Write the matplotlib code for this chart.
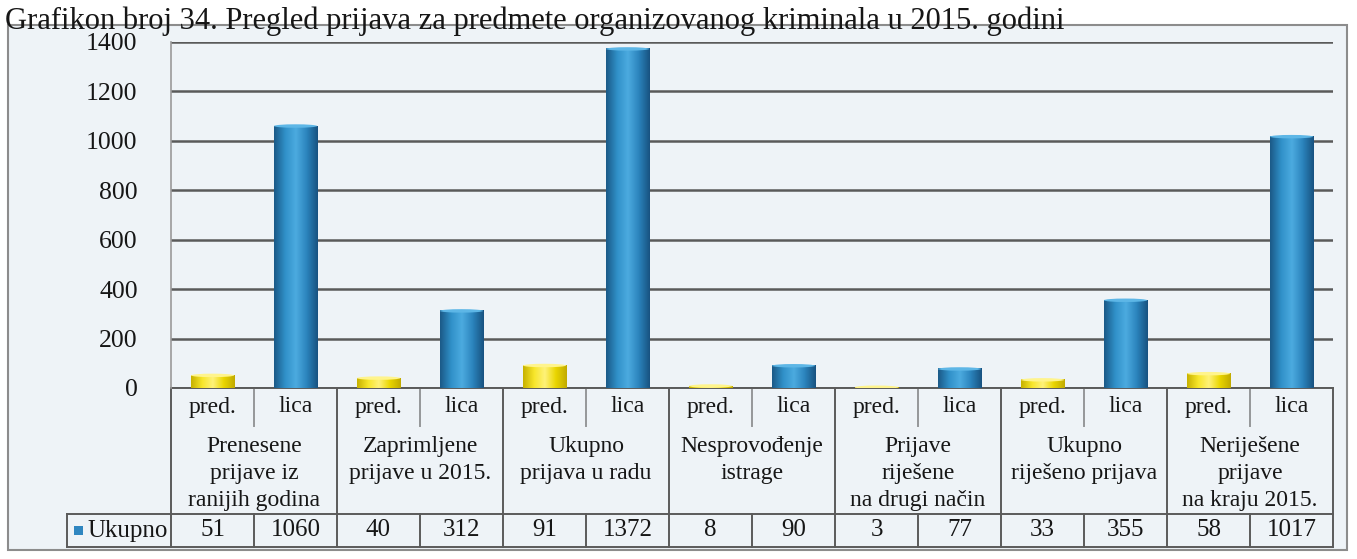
import numpy as np
import matplotlib.pyplot as plt
import matplotlib.transforms as mtransforms
from matplotlib.patches import Rectangle, Ellipse
from matplotlib.colors import LinearSegmentedColormap

title = "Grafikon broj 34. Pregled prijava za predmete organizovanog kriminala u 2015. godini"
groups = [
    "Prenesene\nprijave iz\nranijih godina",
    "Zaprimljene\nprijave u 2015.",
    "Ukupno\nprijava u radu",
    "Nesprovođenje\nistrage",
    "Prijave\nriješene\nna drugi način",
    "Ukupno\nriješeno prijava",
    "Neriješene\nprijave\nna kraju 2015.",
]
sub_labels = ["pred.", "lica"]
pred_values = [51, 40, 91, 8, 3, 33, 58]
lica_values = [1060, 312, 1372, 90, 77, 355, 1017]
y_ticks = [0, 200, 400, 600, 800, 1000, 1200, 1400]
series_name = "Ukupno"

W, H = 1357, 559
FONT = "Liberation Serif"
TXT = "#161616"
LINE = "#5a5a5a"


def fx(px):
    return px / W


def fy(px):
    return 1 - px / H


# interleave pred / lica per group
values = []
kinds = []
for p, l in zip(pred_values, lica_values):
    values += [p, l]
    kinds += [0, 1]
x = np.arange(len(values))

fig = plt.figure(figsize=(W / 100, H / 100), dpi=100)
fig.patch.set_facecolor("white")

# outer chart frame
fig.patches.append(Rectangle((fx(8), fy(550)), fx(1347 - 8), (550 - 25) / H,
                             transform=fig.transFigure, facecolor="#eef3f7",
                             edgecolor="#8c8c8c", lw=1.5, zorder=-5))

fig.text(fx(5), fy(29), title, fontsize=22, family=FONT, color=TXT,
         ha="left", va="baseline", zorder=5)

ax = fig.add_axes([fx(171), fy(388), fx(1333 - 171), (388 - 42) / H])
ax.set_zorder(2)
ax.set_facecolor("none")
ax.set_xlim(-0.5, len(values) - 0.5)
ax.set_ylim(0, 1400)

# gridlines
ax.set_yticks(y_ticks)
ax.set_yticklabels([str(t) for t in y_ticks], fontsize=18.5, family=FONT, color=TXT)
ax.tick_params(axis="y", length=0, pad=24)
ax.tick_params(axis="x", bottom=False, labelbottom=False)
ax.yaxis.grid(True, color=LINE, lw=1.8)
ax.set_axisbelow(True)
for s in ["top", "right", "bottom"]:
    ax.spines[s].set_visible(False)
ax.spines["left"].set_color("#9a9a9a")
ax.spines["left"].set_linewidth(1.2)

# cylinder-like bars
cmaps = [
    LinearSegmentedColormap.from_list("y", ["#c8b200", "#f7e62a", "#fff27a", "#ead600", "#c2ab00"]),
    LinearSegmentedColormap.from_list("b", ["#1b5a88", "#3090c8", "#4cabe0", "#2b84bd", "#185381"]),
]
cap_colors = ["#fff48c", "#5db6e6"]
grad = np.linspace(0, 1, 64)[None, :]
bw = 0.52
for xi, v, k in zip(x, values, kinds):
    ax.imshow(grad, extent=[xi - bw / 2, xi + bw / 2, 0, v], aspect="auto",
              cmap=cmaps[k], zorder=3, interpolation="bilinear")
    ax.add_patch(Ellipse((xi, v), bw, 14, facecolor=cap_colors[k],
                         edgecolor="none", zorder=4))
ax.set_xlim(-0.5, len(values) - 0.5)
ax.set_ylim(0, 1400)

# data table under the chart
bt = mtransforms.blended_transform_factory(ax.transData, fig.transFigure)
y_top, y_sub, y_grp, y_bot = fy(388), fy(426), fy(514), fy(547)
x0, x1 = -0.5, len(values) - 0.5

def hline(y, xa, xb, **kw):
    ax.plot([xa, xb], [y, y], transform=bt, clip_on=False, color=LINE, lw=1.4, **kw)

def vline(xv, ya, yb, **kw):
    ax.plot([xv, xv], [ya, yb], transform=bt, clip_on=False, color=LINE, lw=1.4, **kw)

hline(y_top, x0, x1)
hline(y_grp, x0, x1)
hline(y_bot, x0, x1)
for g in range(len(groups) + 1):
    vline(x0 + 2 * g, y_top, y_bot)
for g in range(len(groups)):
    vline(2 * g + 0.5, y_top - 0.004, y_sub, alpha=0.6)
    vline(2 * g + 0.5, y_grp, y_bot)

# left legend cell
ft = fig.transFigure
for yy in [y_grp, y_bot]:
    ax.plot([fx(67), fx(171)], [yy, yy], transform=ft, clip_on=False, color=LINE, lw=1.4)
ax.plot([fx(67), fx(67)], [y_grp, y_bot], transform=ft, clip_on=False, color=LINE, lw=1.4)
fig.patches.append(Rectangle((fx(74), fy(535)), fx(9), 9 / H, transform=ft,
                             facecolor="#2f86c0", edgecolor="none"))
fig.text(fx(87), (y_grp + y_bot) / 2, series_name, fontsize=18, family=FONT,
         color=TXT, ha="left", va="center")

for xi, k in zip(x, kinds):
    ax.text(xi, (y_top + y_sub) / 2, sub_labels[k], transform=bt, fontsize=17,
            family=FONT, color=TXT, ha="center", va="center")
for xi, v in zip(x, values):
    ax.text(xi, (y_grp + y_bot) / 2, str(v), transform=bt, fontsize=18,
            family=FONT, color=TXT, ha="center", va="center")
for g, name in enumerate(groups):
    ax.text(2 * g + 0.5, fy(436), name, transform=bt, fontsize=17, family=FONT,
            color=TXT, ha="center", va="top", linespacing=1.38)

fig.savefig("out.png", dpi=100)
